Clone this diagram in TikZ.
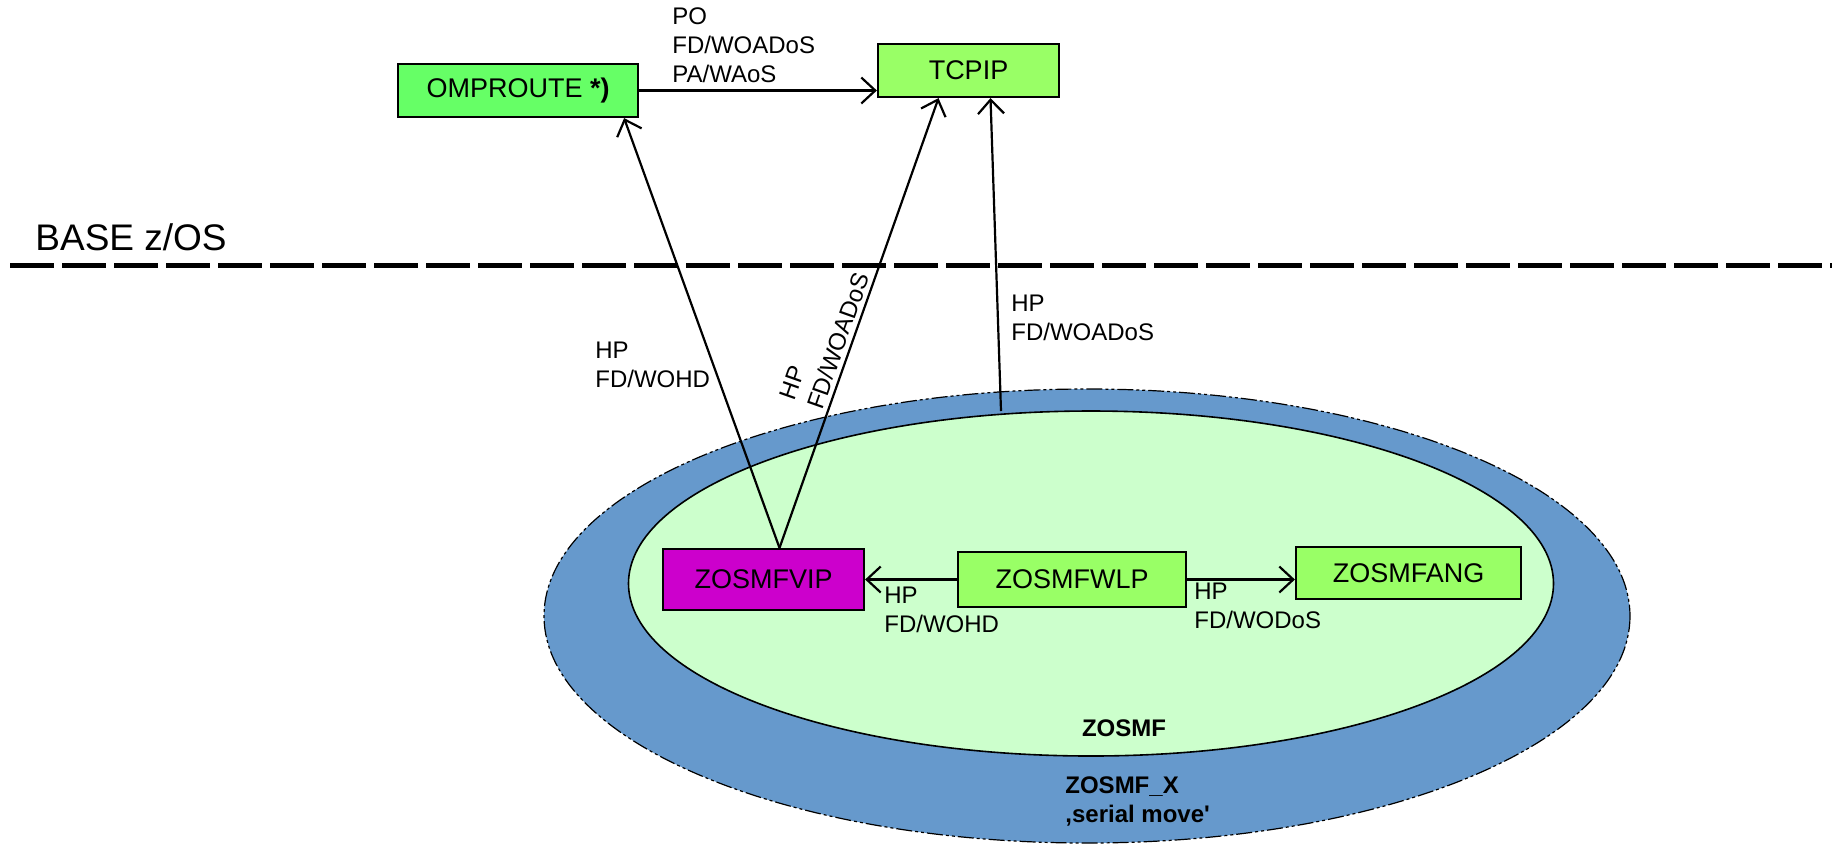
\documentclass[tikz,border=0pt]{standalone}
\usepackage{fontspec}
\setmainfont{Liberation Sans}
\usetikzlibrary{arrows.meta}
\definecolor{ompgreen}{HTML}{66FF66}
\definecolor{taskgreen}{HTML}{99FF66}
\definecolor{vipmagenta}{HTML}{CC00CC}
\definecolor{outerblue}{HTML}{6699CC}
\definecolor{innergreen}{HTML}{CCFFCC}
\tikzset{
  task/.style={draw,line width=1.1pt,inner sep=0pt,font=\fontsize{13.5}{15}\selectfont},
  lbl/.style={align=left,inner sep=0pt,font=\fontsize{12}{14.5}\selectfont},
  flow/.style={->,>={Straight Barb[length=7pt,width=13pt]},line width=1.1pt}
}
\begin{document}
\begin{tikzpicture}[x=0.5pt,y=-0.5pt]
      \useasboundingbox (0,0) rectangle (1832,843);

      \draw[fill=outerblue,line width=0.6pt,dash pattern=on 8pt off 1.5pt on 1.5pt off 1.5pt on 1.5pt off 1.5pt] (1087,616) ellipse [x radius=543,y radius=227];
      \draw[fill=innergreen,line width=0.8pt] (1091,583.5) ellipse [x radius=462.5,y radius=172.5];
      \coordinate (zosmftop) at (1001,411);

      \node[task,fill=ompgreen,minimum width=120pt,minimum height=26.5pt] (omp) at (518,90.5) {OMPROUTE \textbf{*)}};
      \node[task,fill=taskgreen,minimum width=90.5pt,minimum height=26.5pt] (tcp) at (968.5,70.5) {TCPIP};
      \node[task,fill=vipmagenta,minimum width=100.5pt,minimum height=30.5pt] (vip) at (763.5,579.5) {ZOSMFVIP};
      \node[task,fill=taskgreen,minimum width=114pt,minimum height=27.5pt] (wlp) at (1072,579.5) {ZOSMFWLP};
      \node[task,fill=taskgreen,minimum width=112.5pt,minimum height=26pt] (ang) at (1408.5,573) {ZOSMFANG};

      \node[anchor=west,inner sep=0pt,font=\fontsize{18.5}{20}\selectfont] (base) at (35,237) {BASE z/OS};
      \draw[line width=2.5pt,dash pattern=on 22pt off 4pt] (10,265) -- (1832,265);

      \draw[flow] (omp.east) -- (omp.east -| tcp.west);
      \draw[flow] ([xshift=8pt]vip.north) -- ([xshift=-7.5pt]omp.south east);
      \draw[flow] ([xshift=8pt]vip.north) -- node[lbl,pos=0.45,sloped,above=2pt] {HP\\FD/WOADoS} ([xshift=-15pt]tcp.south);
      \draw[flow] (zosmftop) -- ([xshift=11pt]tcp.south);
      \draw[flow] (wlp.west) -- (vip.east);
      \draw[flow] (wlp.east) -- (wlp.east -| ang.west);

      \node[lbl,anchor=west] (polbl) at (672,45) {PO\\FD/WOADoS\\PA/WAoS};
      \node[lbl,anchor=west] (wohdlbl) at (595,365) {HP\\FD/WOHD};
      \node[lbl,anchor=west] (woadoslbl) at (1011,318) {HP\\FD/WOADoS};
      \node[lbl,anchor=west] (viplbl) at (884,610) {HP\\FD/WOHD};
      \node[lbl,anchor=west] (anglbl) at (1194,606) {HP\\FD/WODoS};

      \node[lbl,font=\fontsize{12}{14.5}\selectfont\bfseries] (zosmf) at (1124,728) {ZOSMF};
      \node[lbl,anchor=west,font=\fontsize{12}{14.5}\selectfont\bfseries] (zosmfx) at (1065,801) {ZOSMF\_X\\,serial move\textquotesingle};

    \end{tikzpicture}
\end{document}
